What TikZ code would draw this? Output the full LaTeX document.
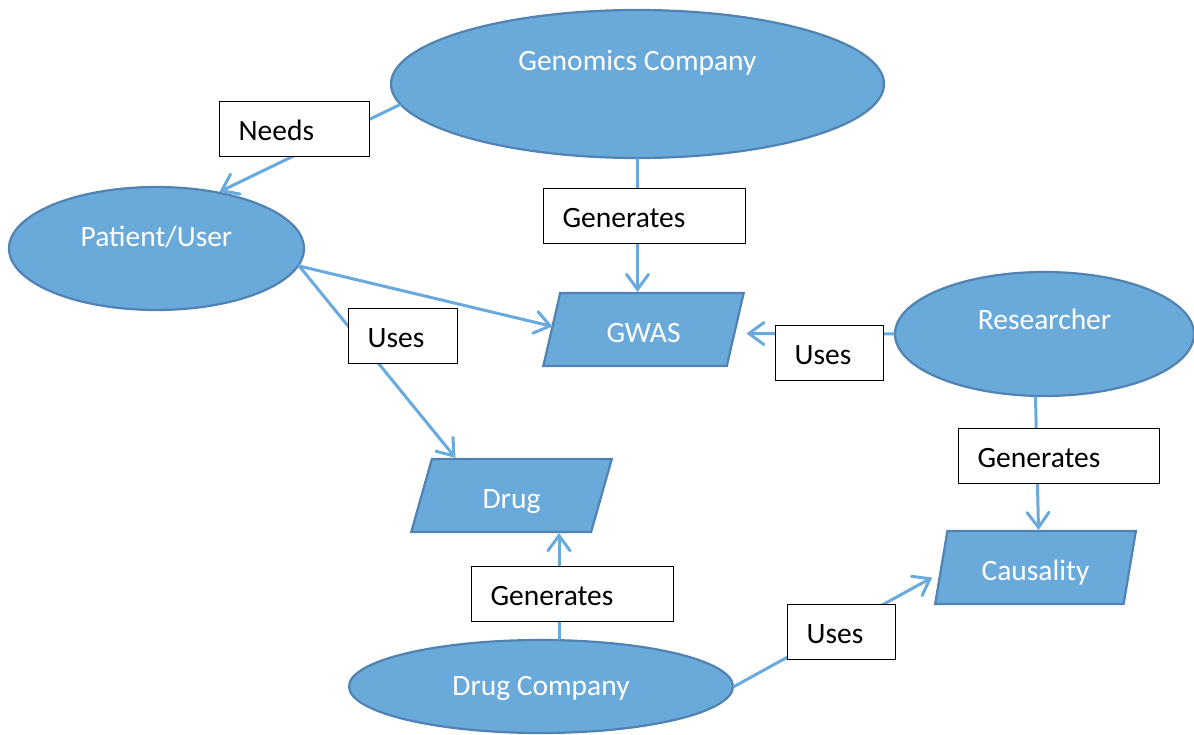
\documentclass[tikz,border=0pt]{standalone}
\usepackage{fontspec}
\setmainfont{Carlito}
\usetikzlibrary{shapes.geometric,arrows.meta}

\definecolor{shapefill}{RGB}{106,170,219}
\definecolor{shapeline}{RGB}{80,130,178}
\definecolor{linkblue}{RGB}{104,170,222}

\tikzset{
  big/.style={font=\fontsize{29.5}{35}\selectfont},
  blob/.style={ellipse, draw=shapeline, fill=shapefill, line width=2.2pt, inner sep=0pt},
  inblob/.style={big, text=white, inner sep=0pt},
  slab/.style={trapezium, trapezium left angle=75, trapezium right angle=105,
    trapezium stretches=true, draw=shapeline, fill=shapefill, line width=2.2pt,
    minimum width=201pt, minimum height=73pt, inner sep=0pt, big, text=white,
    text height=27pt, text depth=1pt},
  link/.style={draw=linkblue, line width=3pt, line cap=round,
    -{Straight Barb[length=15pt,width=22pt,line cap=round]}},
  tag/.style={draw=black, fill=white, line width=1.2pt, anchor=north west,
    inner xsep=19pt, inner ysep=0pt, minimum height=55pt, align=left, big,
    text height=23pt, text depth=0pt}
}

\begin{document}
\begin{tikzpicture}[x=1pt, y=-1pt]
  \useasboundingbox (0,0) rectangle (1194,735);

  % the four actors
  \node[blob, minimum width=493pt, minimum height=148pt,
    label={[inblob, yshift=21pt]center:Genomics Company}] (gen) at (637.5,84) {};
  \node[blob, minimum width=295pt, minimum height=123pt,
    label={[inblob, yshift=12pt]center:Patient/User}] (pat) at (156.5,248.5) {};
  \node[blob, minimum width=299pt, minimum height=124pt,
    label={[inblob, yshift=15pt]center:Researcher}] (res) at (1044.5,334) {};
  \node[blob, minimum width=384pt, minimum height=93pt,
    label={[inblob, yshift=-1.5pt]center:Drug Company}] (dc) at (541,686.5) {};

  % the three products
  \node[slab] (gwas) at (643.5,329.5) {GWAS};
  \node[slab] (drug) at (511.5,495.5) {Drug};
  \node[slab] (caus) at (1035.5,567.5) {Causality};

  % relations
  \draw[link] (gen.185) -- (pat.42);
  \draw[link] (gen.south) -- (gen.south |- gwas.north);
  \draw[link] (pat.-7) -- ([xshift=2pt,yshift=3pt]gwas.west);
  \draw[link] (pat.-7) -- ([xshift=-56pt]drug.north);
  \draw[link] (res.west) -- ([xshift=10pt,yshift=-4pt]gwas.east);
  \draw[link] ([xshift=-9pt]res.south) -- ([xshift=3pt]caus.north);
  \draw[link] ([xshift=18pt]dc.north) -- ([xshift=18pt]dc.north |- drug.south);
  \draw[link] (dc.east) -- ([xshift=-8pt,yshift=-10pt]caus.west);

  % labels on the relations
  \node[tag, text width=112pt] (needs) at (219,101) {Needs};
  \node[tag, text width=164pt] (gentop) at (543,188) {Generates};
  \node[tag, text width=71pt] (usesleft) at (348,308) {Uses};
  \node[tag, text width=70pt] (usesright) at (775,325) {Uses};
  \node[tag, text width=163pt] (genright) at (958,428) {Generates};
  \node[tag, text width=164pt] (genbottom) at (471,566) {Generates};
  \node[tag, text width=70pt] (usesbottom) at (787,604) {Uses};
\end{tikzpicture}
\end{document}
